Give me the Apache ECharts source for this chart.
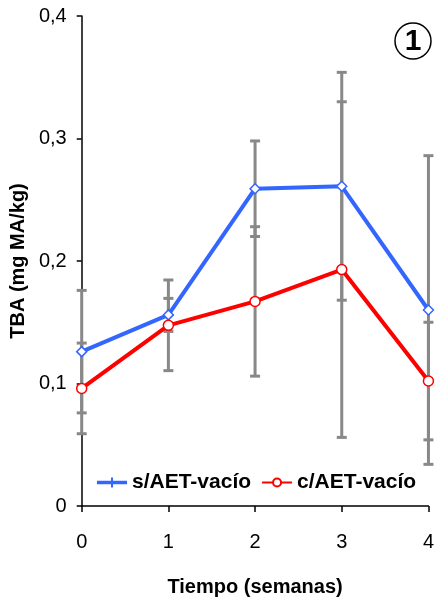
<!DOCTYPE html>
<html>
<head>
<meta charset="utf-8">
<script src="https://cdn.jsdelivr.net/npm/echarts@6/dist/echarts.min.js"></script>
<style>
html,body{margin:0;padding:0;background:#fff;}
#chart{width:437px;height:602px;}
</style>
</head>
<body>
<div id="chart"></div>
<script>
// Data
var categories = ['0', '1', '2', '3', '4'];
var yTickLabels = ['0', '0,1', '0,2', '0,3', '0,4'];
var seriesNames = ['s/AET-vacío', 'c/AET-vacío'];
var sValues = [0.126, 0.156, 0.259, 0.261, 0.160];
var sErrors = [0.050, 0.0135, 0.039, 0.093, 0.126];
var cValues = [0.096, 0.1475, 0.167, 0.193, 0.102];
var cErrors = [0.037, 0.037, 0.061, 0.137, 0.048];

var FONT = 'Liberation Sans, Arial, sans-serif';
var BLUE = '#3366ff';
var RED = '#ff0000';
var GRAY = '#888888';

function errData(vals, errs) {
  return vals.map(function (v, i) { return [i, v, errs[i]]; });
}

function renderErr(params, api) {
  var i = api.value(0), v = api.value(1), e = api.value(2);
  var top = api.coord([i, v + e]);
  var bot = api.coord([i, v - e]);
  var hw = 5;
  var st = { stroke: GRAY, lineWidth: 3 };
  return {
    type: 'group',
    children: [
      { type: 'line', shape: { x1: top[0], y1: top[1], x2: bot[0], y2: bot[1] }, style: st },
      { type: 'line', shape: { x1: top[0] - hw, y1: top[1], x2: top[0] + hw, y2: top[1] }, style: st },
      { type: 'line', shape: { x1: bot[0] - hw, y1: bot[1], x2: bot[0] + hw, y2: bot[1] }, style: st }
    ]
  };
}

var chart = echarts.init(document.getElementById('chart'), null, { renderer: 'canvas' });
chart.setOption({
  animation: false,
  backgroundColor: '#ffffff',
  textStyle: { fontFamily: FONT },
  grid: { left: 77, right: 5, top: 16, bottom: 90, containLabel: false },
  legend: {
    left: 97, top: 472, padding: 0,
    itemWidth: 30, itemHeight: 10, itemGap: 10,
    textStyle: { fontFamily: FONT, fontSize: 21, fontWeight: 'bold', color: '#000' },
    data: [
      { name: seriesNames[0], icon: 'path://M0,3.2L30,3.2L30,6.8L0,6.8Z M14,0L16,0L16,10L14,10Z', itemStyle: { color: BLUE, borderWidth: 0 } },
      { name: seriesNames[1] }
    ]
  },
  xAxis: {
    type: 'category',
    data: categories,
    boundaryGap: false,
    name: 'Tiempo (semanas)',
    nameLocation: 'middle',
    nameGap: 71,
    nameTextStyle: { fontFamily: FONT, fontSize: 20, fontWeight: 'bold', color: '#000' },
    axisLine: { lineStyle: { color: '#000', width: 1.5 } },
    axisTick: { show: true, inside: false, length: 6, alignWithLabel: true, lineStyle: { color: '#000', width: 1.5 } },
    axisLabel: { fontFamily: FONT, fontSize: 20, color: '#000', margin: 26 },
    splitLine: { show: false }
  },
  yAxis: {
    type: 'value',
    min: 0, max: 0.4, interval: 0.1,
    name: 'TBA (mg MA/kg)',
    nameLocation: 'middle',
    nameGap: 51,
    nameTextStyle: { fontFamily: FONT, fontSize: 20, fontWeight: 'bold', color: '#000' },
    axisLine: { show: true, lineStyle: { color: '#000', width: 1.5 } },
    axisTick: { show: true, inside: false, length: 5, lineStyle: { color: '#000', width: 1.5 } },
    axisLabel: {
      fontFamily: FONT, fontSize: 20, color: '#000', margin: 15,
      formatter: function (v) { return yTickLabels[Math.round(v * 10)]; }
    },
    splitLine: { show: false }
  },
  series: [
    {
      type: 'custom', name: 'err-s', renderItem: renderErr, z: 1,
      data: errData(sValues, sErrors), encode: { x: 0, y: 1 }, silent: true
    },
    {
      type: 'custom', name: 'err-c', renderItem: renderErr, z: 1,
      data: errData(cValues, cErrors), encode: { x: 0, y: 1 }, silent: true
    },
    {
      type: 'line', name: seriesNames[0], data: sValues, z: 3,
      symbol: 'diamond', symbolSize: 10, showSymbol: true,
      lineStyle: { color: BLUE, width: 4 },
      itemStyle: { color: '#fff', borderColor: BLUE, borderWidth: 1.5 }
    },
    {
      type: 'line', name: seriesNames[1], data: cValues, z: 3,
      symbol: 'circle', symbolSize: 10, showSymbol: true,
      lineStyle: { color: RED, width: 4 },
      itemStyle: { color: '#fff', borderColor: RED, borderWidth: 1.5 }
    }
  ],
  graphic: [
    { type: 'circle', shape: { cx: 413, cy: 41, r: 18 }, style: { fill: '#fff', stroke: '#000', lineWidth: 1.5 }, z: 10 },
    { type: 'text', x: 413, y: 42, style: { text: '1', fontFamily: FONT, fontSize: 30, fontWeight: 'bold', fill: '#000', align: 'center', verticalAlign: 'middle' }, z: 11 }
  ]
});
</script>
</body>
</html>
